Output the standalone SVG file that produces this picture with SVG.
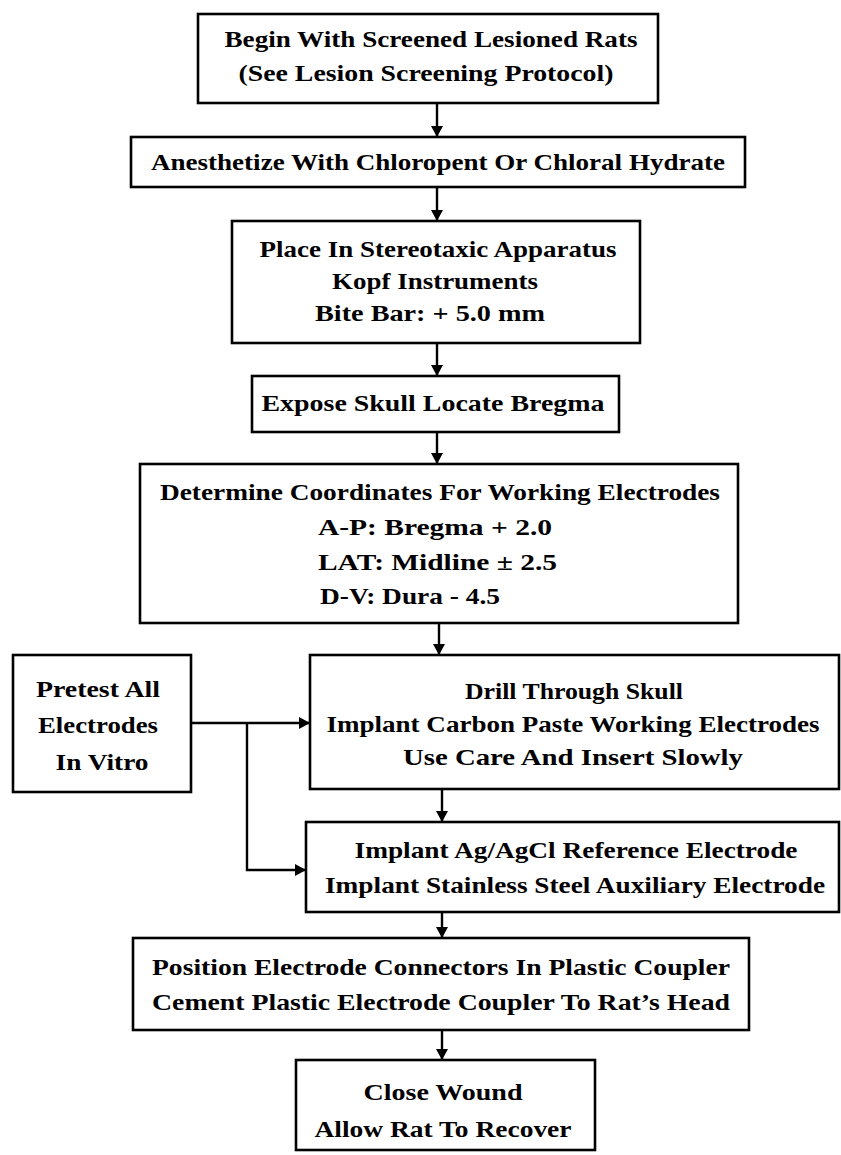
<svg xmlns="http://www.w3.org/2000/svg" width="841" height="1155" viewBox="0 0 841 1155">
<style>
.box{fill:#fff;stroke:#000;stroke-width:2.6}
.t{font-family:"Liberation Serif","DejaVu Serif",serif;font-weight:bold;font-size:24px;fill:#000;text-anchor:middle}
.l{text-anchor:start}
.c{fill:none;stroke:#000;stroke-width:2.4}
</style>
<defs>
<marker id="ah" markerUnits="userSpaceOnUse" markerWidth="12" markerHeight="12" refX="11" refY="6" orient="auto">
<path d="M0,0 L11,6 L0,12 z" fill="#000"/>
</marker>
</defs>
<rect width="841" height="1155" fill="#fff"/>
<g id="connectors">
<path class="c" d="M437,103 V137" marker-end="url(#ah)"/>
<path class="c" d="M437,187 V221" marker-end="url(#ah)"/>
<path class="c" d="M437,343 V376" marker-end="url(#ah)"/>
<path class="c" d="M437,432 V464" marker-end="url(#ah)"/>
<path class="c" d="M439,623 V655" marker-end="url(#ah)"/>
<path class="c" d="M442,789 V822" marker-end="url(#ah)"/>
<path class="c" d="M442,912 V938" marker-end="url(#ah)"/>
<path class="c" d="M442,1030 V1060" marker-end="url(#ah)"/>
<path class="c" d="M191,723 H310" marker-end="url(#ah)"/>
<path class="c" d="M247,723 V870 H306" marker-end="url(#ah)"/>
</g>
<g id="n1">
<rect class="box" x="198" y="14" width="460" height="89"/>
<text class="t" x="431" y="47" textLength="413" lengthAdjust="spacingAndGlyphs">Begin With Screened Lesioned Rats</text>
<text class="t" x="426" y="81" textLength="375" lengthAdjust="spacingAndGlyphs">(See Lesion Screening Protocol)</text>
</g>
<g id="n2">
<rect class="box" x="131" y="137" width="614" height="50"/>
<text class="t" x="438" y="170" textLength="574" lengthAdjust="spacingAndGlyphs">Anesthetize With Chloropent Or Chloral Hydrate</text>
</g>
<g id="n3">
<rect class="box" x="232" y="221" width="408" height="122"/>
<text class="t" x="438" y="257" textLength="357" lengthAdjust="spacingAndGlyphs">Place In Stereotaxic Apparatus</text>
<text class="t" x="435" y="289" textLength="206" lengthAdjust="spacingAndGlyphs">Kopf Instruments</text>
<text class="t" x="430" y="321" textLength="230" lengthAdjust="spacingAndGlyphs">Bite Bar: + 5.0 mm</text>
</g>
<g id="n4">
<rect class="box" x="252" y="376" width="367" height="56"/>
<text class="t" x="433" y="411" textLength="343" lengthAdjust="spacingAndGlyphs">Expose Skull Locate Bregma</text>
</g>
<g id="n5">
<rect class="box" x="140" y="464" width="598" height="159"/>
<text class="t" x="440" y="500" textLength="560" lengthAdjust="spacingAndGlyphs">Determine Coordinates For Working Electrodes</text>
<text class="t l" x="318" y="535" textLength="234" lengthAdjust="spacingAndGlyphs">A-P:  Bregma + 2.0</text>
<text class="t l" x="318" y="570" textLength="239" lengthAdjust="spacingAndGlyphs">LAT: Midline ± 2.5</text>
<text class="t l" x="320" y="604" textLength="180" lengthAdjust="spacingAndGlyphs">D-V:  Dura - 4.5</text>
</g>
<g id="n6">
<rect class="box" x="13" y="655" width="178" height="137"/>
<text class="t" x="98" y="697" textLength="124" lengthAdjust="spacingAndGlyphs">Pretest All</text>
<text class="t" x="98" y="733" textLength="120" lengthAdjust="spacingAndGlyphs">Electrodes</text>
<text class="t" x="102" y="770" textLength="93" lengthAdjust="spacingAndGlyphs">In Vitro</text>
</g>
<g id="n7">
<rect class="box" x="310" y="655" width="529" height="134"/>
<text class="t" x="574" y="699" textLength="218" lengthAdjust="spacingAndGlyphs">Drill Through Skull</text>
<text class="t" x="573" y="732" textLength="493" lengthAdjust="spacingAndGlyphs">Implant Carbon Paste Working Electrodes</text>
<text class="t" x="573" y="765" textLength="340" lengthAdjust="spacingAndGlyphs">Use Care And Insert Slowly</text>
</g>
<g id="n8">
<rect class="box" x="306" y="822" width="533" height="90"/>
<text class="t" x="576" y="858" textLength="443" lengthAdjust="spacingAndGlyphs">Implant Ag/AgCl Reference Electrode</text>
<text class="t" x="575" y="893" textLength="500" lengthAdjust="spacingAndGlyphs">Implant Stainless Steel Auxiliary Electrode</text>
</g>
<g id="n9">
<rect class="box" x="133" y="938" width="616" height="92"/>
<text class="t" x="441" y="975" textLength="578" lengthAdjust="spacingAndGlyphs">Position Electrode Connectors In Plastic Coupler</text>
<text class="t" x="441" y="1010" textLength="578" lengthAdjust="spacingAndGlyphs">Cement Plastic Electrode Coupler To Rat’s Head</text>
</g>
<g id="n10">
<rect class="box" x="296" y="1060" width="299" height="90"/>
<text class="t" x="443" y="1100" textLength="159" lengthAdjust="spacingAndGlyphs">Close Wound</text>
<text class="t" x="443" y="1137" textLength="257" lengthAdjust="spacingAndGlyphs">Allow Rat To Recover</text>
</g>
</svg>
